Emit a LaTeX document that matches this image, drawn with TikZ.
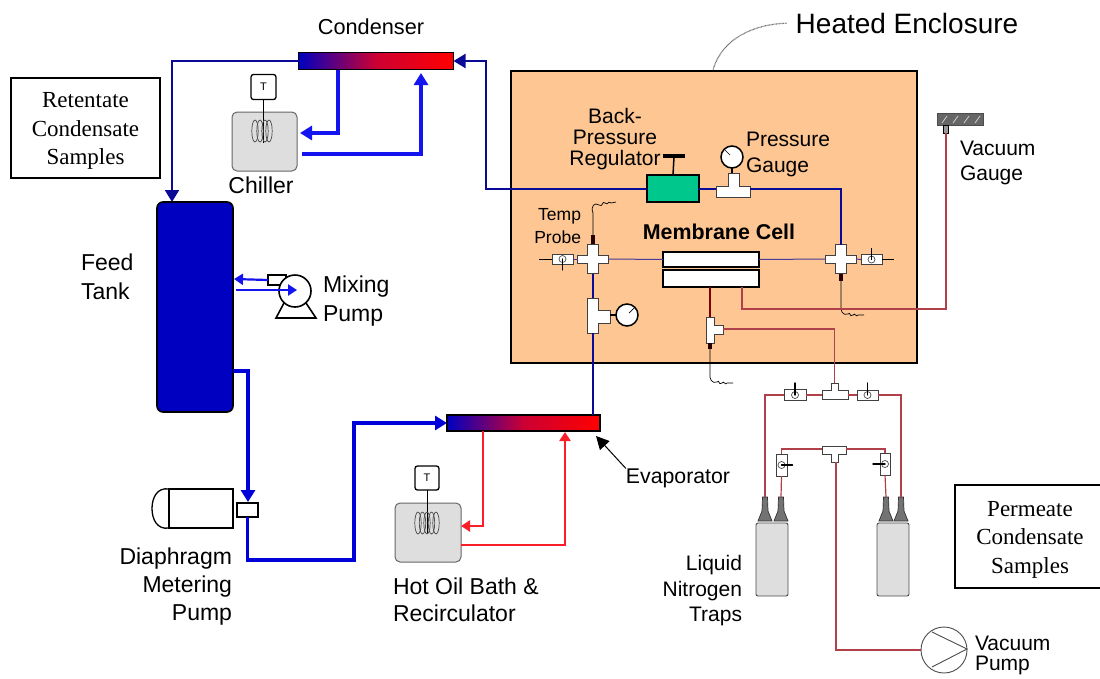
\documentclass[tikz,border=0pt]{standalone}
\usepackage{fontspec}
\setmainfont{Liberation Sans}
\newfontfamily\boxfont{Liberation Serif}
\usetikzlibrary{arrows.meta}
\definecolor{peach}{HTML}{FDC692}
\definecolor{regcol}{HTML}{00C78C}
\definecolor{tankcol}{HTML}{0000C0}
\definecolor{darkpipe}{HTML}{0A0A96}
\definecolor{tankpipe}{HTML}{0000D8}
\definecolor{coolpipe}{HTML}{1414F0}
\definecolor{hotpipe}{HTML}{FA1E28}
\definecolor{vacpipe}{HTML}{B0404A}
\definecolor{cellpipe}{HTML}{4A3A9A}
\tikzset{
  every node/.style={inner sep=0pt,outer sep=0pt},
  txt/.style 2 args={font=\fontsize{#1}{#2}\selectfont},
  hxbar/.style={draw,line width=1.5pt,left color=blue!75!black,right color=red,middle color=purple!80!red,minimum width=155pt,minimum height=17pt},
  tstat/.style={draw,line width=1.3pt,fill=white,rounded corners=2.5pt,minimum size=25pt,font=\fontsize{11}{11}\selectfont},
  bath/.style={draw=black!60,line width=1pt,fill=black!13,rounded corners=5pt},
  samplebox/.style={draw,line width=1.5pt,fill=white},
  sampletext/.style={align=center,font=\boxfont\fontsize{23}{28.5}\selectfont},
  fitting/.style={draw=black!75,line width=0.8pt,fill=white},
  valvebox/.style={draw=black!75,line width=0.8pt,fill=white,minimum width=21pt,minimum height=10pt},
  handle/.style={line width=1.4pt,line cap=round},
  dial/.style={circle,draw,line width=1.5pt,fill=white,minimum size=22pt},
  wire/.style={line width=0.7pt},
  darkline/.style={draw=darkpipe,line width=2pt},
  tankline/.style={draw=tankpipe,line width=3.5pt},
  coolline/.style={draw=coolpipe,line width=3.5pt},
  hotline/.style={draw=hotpipe,line width=2.2pt},
  vacline/.style={draw=vacpipe,line width=1.2pt},
  bigtip/.style={-{Triangle[length=12pt,width=14pt]}},
  smalltip/.style={-{Triangle[length=9pt,width=11pt]}}
}
\begin{document}
\begin{tikzpicture}[x=1pt,y=-1pt]
\useasboundingbox (0,0) rectangle (1100,678);
\clip (0,0) rectangle (1100,678);
% enclosure and text boxes
\node (enclosure) [draw,line width=2pt,fill=peach,minimum width=406pt,minimum height=292pt] at (714,217) {};
\node (heated) [txt={28}{30}] at (907,23) {Heated Enclosure};
\coordinate (enctop) at (713,70);
\draw[draw=black!55,line width=1.2pt,dash pattern=on 0.8pt off 0.6pt,shorten <=9pt] (heated.west) .. controls (755,24) and (722,38) .. (enctop);
\node (retentate) [samplebox,minimum width=149pt,minimum height=100pt] at (85.5,128) {};
\node [sampletext] at (85.5,131) {Retentate\\Condensate\\Samples};
\node (permeate) [samplebox,minimum width=150pt,minimum height=103pt] at (1030,536.5) {};
\node [sampletext] at (1030,539.5) {Permeate\\Condensate\\Samples};
% exchangers
\node (condenser) [hxbar] at (376,61) {};
\node (evaporator) [hxbar,minimum width=153pt,minimum height=16pt] at (523.5,423) {};
\node [txt={21.7}{24}] at (371,27) {Condenser};
\node (evaplabel) [txt={21.3}{24}] at (678,478) {Evaporator};
\coordinate (evaptip) at (596,436);
\draw[-{Triangle[length=13pt,width=13pt]},line width=1pt] (evaplabel.north west) -- (evaptip);
% chiller
\node (chiller) [bath,minimum width=65pt,minimum height=59pt] at (264.5,141.5) {};
\node (chillstat) [tstat] at (263.5,87) {T};
\draw[wire] (chillstat.south) -- (263.5,143);
\foreach \cx in {255,260,265,269}
  \draw[black!70,line width=0.7pt] (\cx,131) ellipse (3.2 and 11);
\node [txt={23}{26}] at (261,185) {Chiller};
% bath
\node (oilbath) [bath,minimum width=66pt,minimum height=59pt] at (428,532.5) {};
\node (oilstat) [tstat,minimum size=24pt] at (427,478) {T};
\draw[wire] (oilstat.south) -- (427,533);
\foreach \cx in {418,422.5,427,431.5,436}
  \draw[black!70,line width=0.7pt] (\cx,523) ellipse (3.2 and 11);
\node [txt={23}{27.5},align=left,anchor=west] at (393,600) {Hot Oil Bath \&\\Recirculator};
% tank and pumps
\node (tank) [draw,line width=1.6pt,fill=tankcol,rounded corners=6pt,minimum width=76pt,minimum height=210pt] at (195,307) {};
\node [txt={23}{29},align=left,anchor=west] at (81,276.5) {Feed\\Tank};
\node (meterhead) [draw,line width=1.3pt,fill=white,minimum width=21pt,minimum height=14pt] at (247.5,510) {};
\node (meterbody) [draw,line width=1.3pt,fill=white,minimum width=64pt,minimum height=39pt] at (201,508.5) {};
\draw[line width=1.3pt] (meterbody.north west) .. controls (157,487) and (152,498) .. (152,508.5) .. controls (152,519) and (157,530) .. (meterbody.south west);
\node [txt={23}{28},align=right,anchor=east] at (232,587) {Diaphragm\\Metering\\Pump};
\node (mixstem) [draw,line width=1.6pt,fill=white,minimum width=18pt,minimum height=10pt] at (277,280) {};
\draw[line width=1.6pt,fill=white] (284,303) -- (276,318) -- (316,318) -- (306,303) -- cycle;
\node (mixpump) [circle,draw,line width=1.6pt,fill=white,minimum size=32pt] at (295,291) {};
\node [txt={23}{28.5},align=left,anchor=west] at (323,301) {Mixing\\Pump};
% regulator, gauges
\node (regulator) [draw,line width=1.5pt,fill=regcol,minimum width=52pt,minimum height=27pt] at (673,188.5) {};
\draw[line width=1.5pt] (regulator.north) -- (674,157);
\draw[line width=4.5pt] (663,156) -- (685,156);
\node [txt={21}{21},align=center] at (615,139) {Back-\\Pressure\\Regulator};
\node [txt={21}{26},align=left,anchor=west] at (746,154) {Pressure\\Gauge};
\node (gaugetop) [dial] at (732,157) {};
\draw[wire] (gaugetop.center) ++(-2,-2) -- ++(-5,-5);
\draw[line width=1.5pt] (gaugetop.south) -- (732,173);
\draw[fitting] (716,186) -- (728,186) -- (728,173) -- (739,173) -- (739,186) -- (750,186) -- (750,197) -- (716,197) -- cycle;
\coordinate (teegw) at (716,188.5);
\coordinate (teege) at (750,188.5);
% cell
\node (cellup) [draw,line width=1.5pt,fill=white,minimum width=96pt,minimum height=15pt] at (711,259.5) {};
\node (celldown) [draw,line width=1.5pt,fill=white,minimum width=96pt,minimum height=17pt] at (711,278.5) {};
\node [font=\bfseries\fontsize{21.4}{24}\selectfont] at (719,232) {Membrane Cell};
\node [txt={17.5}{23},align=right,anchor=east] at (581,226.5) {Temp\\Probe};
% crosses
\foreach \cx/\cname in {593/crossl,841/crossr} {
  \node (\cname) [minimum width=31pt,minimum height=29pt] at (\cx,259) {};
  \draw[fitting] (\cx-15.5,255) -- (\cx-5.5,255) -- (\cx-5.5,244.5) -- (\cx+5.5,244.5) -- (\cx+5.5,255) -- (\cx+15.5,255) -- (\cx+15.5,263) -- (\cx+5.5,263) -- (\cx+5.5,273.5) -- (\cx-5.5,273.5) -- (\cx-5.5,263) -- (\cx-15.5,263) -- cycle;
}
\node (valvel) [valvebox] at (562.5,259) {};
\node (valver) [valvebox] at (871.5,259.5) {};
\draw[black!70,line width=0.7pt] (valvel.center) circle (3.5);
\draw[black!70,line width=0.7pt] (valver.center) circle (3.5);
\draw[handle] (valvel.center) -- ++(0,11);
\draw[handle] (valver.center) -- ++(0,-11);
\coordinate (vleft) at (539,259);
\coordinate (vright) at (894,259.5);
\draw[wire] (vleft) -- (valvel.west);
\draw[wire] (valver.east) -- (vright);
\draw[draw=cellpipe,line width=1pt] (valvel.east) -- (crossl.west);
\draw[draw=cellpipe,line width=1pt] (crossl.east) -- (cellup.west);
\draw[draw=cellpipe,line width=1pt] (cellup.east) -- (crossr.west);
\draw[draw=cellpipe,line width=1pt] (crossr.east) -- (valver.west);
% probes
\draw[line width=3.5pt,draw=black!85!red] (593,244) -- (593,235);
\draw[line width=3.5pt,draw=black!85!red] (841,274) -- (841,281);
\draw[wire] (593,235) -- (593,213) .. controls (590,206) and (595,202) .. (599,205) .. controls (603,208) and (602,200) .. (605,203) .. controls (608,206) and (608,200) .. (611,203) -- (616,202);
\foreach \x/\y in {841/305,710/373}
  \draw[wire] (\x,\y-24) -- (\x,\y) .. controls (\x-1,\y+6) and (\x+2,\y+11) .. (\x+7,\y+9) .. controls (\x+10,\y+6) and (\x+8,\y+13) .. (\x+12,\y+10) .. controls (\x+15,\y+7) and (\x+14,\y+13) .. (\x+17,\y+10) -- (\x+23,\y+10);
% tee with dial on the feed line
\draw[fitting] (587,298) -- (598,298) -- (598,310) -- (610,310) -- (610,323) -- (598,323) -- (598,333) -- (587,333) -- cycle;
\coordinate (teefn) at (593,298);
\coordinate (teefs) at (593,333);
\node (gaugefeed) [dial] at (627,315) {};
\draw[line width=2pt] (610,315) -- (gaugefeed.west);
\draw[wire] (gaugefeed.center) ++(2,-2) -- ++(5,-5);
% permeate tee
\draw[fitting] (706,317) -- (714,317) -- (714,325) -- (723,325) -- (723,334) -- (714,334) -- (714,343) -- (706,343) -- cycle;
\coordinate (teemn) at (710,317);
\coordinate (teemout) at (723,329);
\draw[line width=3.5pt,draw=black!85!red] (710,343) -- (710,349);
% vacuum gauge
\node (vacgauge) [draw=black!70,line width=0.8pt,fill=black!60,minimum width=46pt,minimum height=12pt] at (960,119) {};
\foreach \vx in {942,953,964,975}
  \draw[white!80!black,line width=0.8pt] (\vx,123) -- (\vx+5,116);
\node (vacstub) [draw,line width=0.8pt,fill=black!40,minimum width=5pt,minimum height=8pt] at (946,129) {};
\node [txt={21}{25},align=left,anchor=west] at (960,162.5) {Vacuum\\Gauge};
% traps
\foreach \tx/\tname in {772/trapa,893/trapb}
  \node (\tname) [draw=black!70,line width=0.9pt,fill=black!13,rounded corners=2pt,minimum width=32pt,minimum height=73pt] at (\tx,559.5) {};
\foreach \nx in {765,781,886,901} {
  \coordinate (neck\nx) at (\nx,497);
  \draw[draw=black!80,line width=0.7pt,fill=black!55] (\nx-2.5,497) -- (\nx+2.5,497) -- (\nx+3,511) -- (\nx+7,521) -- (\nx-7,521) -- (\nx-3,511) -- cycle;
}
\node [txt={21}{25.5},align=right,anchor=east] at (742,591) {Liquid\\Nitrogen\\Traps};
% valves and tees below the enclosure
\node (valveta) [valvebox,minimum width=22pt,minimum height=11pt] at (795,395) {};
\node (valvetb) [valvebox,minimum width=21pt,minimum height=10pt] at (867.5,395) {};
\node (valvesa) [valvebox,minimum width=11pt,minimum height=22pt] at (781.5,465) {};
\node (valvesb) [valvebox,minimum width=10pt,minimum height=22pt] at (885,464) {};
\draw[black!70,line width=0.7pt] (valveta.center) circle (3.5);
\draw[black!70,line width=0.7pt] (valvetb.center) circle (3.5);
\draw[black!70,line width=0.7pt] (valvesa.center) circle (3.5);
\draw[black!70,line width=0.7pt] (valvesb.center) circle (3.5);
\draw[handle] (valveta.center) -- ++(0,-12);
\draw[handle] (valvetb.center) -- ++(0,-12);
\draw[handle] (valvesa.center) -- ++(11,0);
\draw[handle] (valvesb.center) -- ++(-12,0);
\draw[fitting] (822,390) -- (831,390) -- (831,383) -- (838,383) -- (838,390) -- (848,390) -- (848,399) -- (822,399) -- cycle;
\coordinate (teeun) at (834.5,383);
\coordinate (teeuw) at (822,395);
\coordinate (teeue) at (848,395);
\draw[fitting] (822,446) -- (846,446) -- (846,454) -- (838,454) -- (838,462) -- (831,462) -- (831,454) -- (822,454) -- cycle;
\coordinate (teelw) at (822,449);
\coordinate (teele) at (846,449);
\coordinate (teels) at (836,462);
% vacuum pump
\node (vacpump) [circle,draw=black!70,line width=0.9pt,fill=white,minimum size=46pt] at (944,650) {};
\draw[black!70,line width=0.9pt] (932,632) -- (967,649) -- (932,667);
\node [txt={21}{20.5},align=left,anchor=west] at (975,655.5) {Vacuum\\Pump};
% retentate loop
\coordinate (backbend) at (486,188.5);
\coordinate (tanktop) at (172,202);
\draw[darkline,bigtip] (regulator.west) -- (backbend) |- (condenser.east);
\draw[darkline,bigtip] (condenser.west) -| (tanktop);
\draw[darkline] (regulator.east) -- (teegw);
\draw[darkline] (teege) -| (crossr.north);
\draw[darkline] (crossl.south) -- (teefn);
\coordinate (evaptop) at (593,415);
\draw[darkline] (teefs) -- (evaptop);
% chiller loop
\coordinate (condout) at (338,70);
\coordinate (chillin) at (300,133);
\coordinate (chillout) at (302,154);
\coordinate (condret) at (421,73);
\draw[coolline,bigtip] (condout) |- (chillin);
\draw[coolline,bigtip] (chillout) -| (condret);
% mixing loop
\coordinate (tankin) at (234,279);
\coordinate (tankout) at (236,290);
\coordinate (mixin) at (297,290);
\draw[draw=coolpipe,line width=2.2pt,smalltip] (mixstem.west) -- (tankin);
\draw[draw=coolpipe,line width=2.2pt,smalltip] (tankout) -- (mixin);
% feed line
\coordinate (tankside) at (233,371);
\coordinate (metertip) at (248,502);
\coordinate (feedbend) at (354,560);
\draw[tankline,bigtip] (tankside) -| (metertip);
\draw[tankline,bigtip] (meterhead.south) |- (feedbend) |- (evaporator.west);
% oil loop
\coordinate (evapout) at (483,431);
\coordinate (oilin) at (461,526);
\coordinate (oilout) at (461,545);
\coordinate (evapret) at (565,432);
\draw[hotline,smalltip] (evapout) |- (oilin);
\draw[hotline,smalltip] (oilout) -| (evapret);
% permeate lines
\coordinate (memtap) at (710,287);
\coordinate (celltap) at (742,287);
\coordinate (vacbend) at (946,309);
\draw[draw=black!30!red!70!black,line width=2.5pt] (memtap) -- (teemn);
\draw[vacline] (celltap) |- (vacbend) -- (vacstub.south);
\draw[vacline] (teemout) -| (teeun);
\draw[vacline] (teeuw) -- (valveta.east);
\draw[vacline] (teeue) -- (valvetb.west);
\draw[vacline] (valveta.west) -| (neck765);
\draw[vacline] (valvetb.east) -| (neck901);
\draw[vacline] (teelw) -| (valvesa.north);
\draw[vacline] (teele) -| (valvesb.north);
\draw[vacline] (valvesa.south) -- (neck781);
\draw[vacline] (valvesb.south) -- (neck886);
\draw[vacline] (teels) |- (vacpump.west);
\end{tikzpicture}
\end{document}
